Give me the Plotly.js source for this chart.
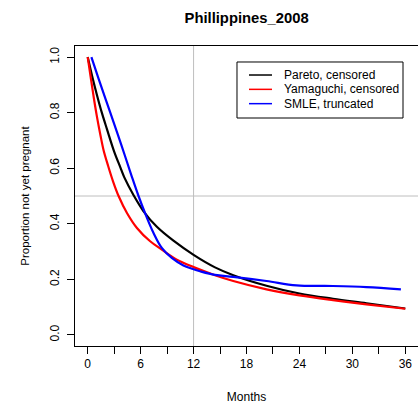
<!DOCTYPE html>
<html>
<head>
<meta charset="utf-8">
<script src="https://cdn.plot.ly/plotly-3.0.1.min.js"></script>
<style>html,body{margin:0;padding:0;background:#fff;}#chart{width:418px;height:408px;}</style>
</head>
<body>
<div id="chart"></div>
<script>
// ---- data ----
const chartTitle = "Phillippines_2008";
const xTitle = "Months";
const yTitle = "Proportion not yet pregnant";
const seriesNames = ["Pareto, censored", "Yamaguchi, censored", "SMLE, truncated"];
const seriesColors = ["#000000", "#ff0000", "#0000ff"];

const monthsPareto = [0, 0.5, 1.06, 1.6, 2.19, 3.0, 3.7, 4.15, 5.2, 6.33, 7.84, 9.72, 12, 14.43, 16.5, 20.27, 24, 27.8, 31.6, 36];
const pareto       = [1.0, 0.932, 0.862, 0.80, 0.74, 0.66, 0.603, 0.567, 0.503, 0.445, 0.389, 0.339, 0.288, 0.243, 0.215, 0.177, 0.149, 0.130, 0.114, 0.095];

const monthsYamaguchi = [0, 0.4, 0.7, 1.05, 1.45, 1.8, 2.3, 2.87, 3.5, 4.45, 5.58, 7.08, 8.4, 10.1, 12, 14.43, 16.5, 20.27, 24, 27.8, 31.6, 36];
const yamaguchi       = [1.0, 0.915, 0.852, 0.785, 0.718, 0.665, 0.61, 0.553, 0.5, 0.439, 0.385, 0.337, 0.307, 0.271, 0.244, 0.215, 0.194, 0.164, 0.142, 0.125, 0.110, 0.094];

const monthsSMLE = [0.42, 1.24, 2.56, 3.8, 5.0, 5.76, 6.52, 7.46, 8.4, 9.53, 10.85, 12, 12.73, 14.43, 16.5, 20.27, 23.66, 27.8, 31.6, 35.5];
const smle       = [1.0, 0.922, 0.80, 0.685, 0.57, 0.5, 0.437, 0.367, 0.313, 0.277, 0.25, 0.236, 0.229, 0.216, 0.209, 0.194, 0.178, 0.176, 0.172, 0.164];

const xTickVals = [0, 3, 6, 9, 12, 15, 18, 21, 24, 27, 30, 33, 36];
const xTickText = ["0", "", "6", "", "12", "", "18", "", "24", "", "30", "", "36"];
const yTickVals = [0, 0.2, 0.4, 0.6, 0.8, 1.0];
const yTickText = ["0.0", "0.2", "0.4", "0.6", "0.8", "1.0"];

const refMonth = 12;   // vertical reference line
const refProp = 0.5;   // horizontal reference line

// ---- build ----
const FONT = "'Liberation Sans', Arial, Helvetica, sans-serif";
const xs = [monthsPareto, monthsYamaguchi, monthsSMLE];
const ys = [pareto, yamaguchi, smle];

const traces = xs.map((x, i) => ({
  type: "scatter", mode: "lines", x: x, y: ys[i], name: seriesNames[i],
  line: {color: seriesColors[i], width: 2.2, shape: "spline", smoothing: 1.0},
  showlegend: false, hoverinfo: "skip"
}));

// hand-built legend box (R-style compact legend)
const lgX0 = 0.4723, lgX1 = 0.9563, lgY0 = 0.76, lgY1 = 0.9467;
const rowY = [0.9033, 0.8555, 0.8078];
const shapes = [
  {type: "line", xref: "x", yref: "paper", x0: refMonth, x1: refMonth, y0: 0, y1: 1,
   line: {color: "#bebebe", width: 1}, layer: "below"},
  {type: "line", xref: "paper", yref: "y", x0: 0, x1: 1, y0: refProp, y1: refProp,
   line: {color: "#bebebe", width: 1}, layer: "below"},
  {type: "rect", xref: "paper", yref: "paper", x0: lgX0, x1: lgX1, y0: lgY0, y1: lgY1,
   line: {color: "#000000", width: 1}, fillcolor: "rgba(255,255,255,1)"}
];
const annotations = [];
seriesNames.forEach((n, i) => {
  shapes.push({type: "line", xref: "paper", yref: "paper", x0: 0.5073, x1: 0.5743, y0: rowY[i], y1: rowY[i],
    line: {color: seriesColors[i], width: 1.5}});
  annotations.push({xref: "paper", yref: "paper", x: 0.6035, y: rowY[i], xanchor: "left", yanchor: "middle",
    text: n, showarrow: false, font: {family: FONT, size: 12, color: "#000"}});
});

const layout = {
  width: 418, height: 408,
  margin: {l: 75, r: 0, t: 46, b: 62, pad: 0},
  paper_bgcolor: "#fff", plot_bgcolor: "#fff",
  font: {family: FONT, size: 12, color: "#000"},
  title: {text: "<b>" + chartTitle + "</b>", font: {family: FONT, size: 14.8, color: "#000"},
          x: 0.59, xanchor: "center", y: 0.957, yanchor: "middle"},
  xaxis: {
    range: [-1.44, 37.44], showgrid: false, zeroline: false,
    showline: true, mirror: true, linecolor: "#000", linewidth: 1,
    ticks: "outside", ticklen: 7, tickwidth: 1, tickcolor: "#000",
    tickmode: "array", tickvals: xTickVals, ticktext: xTickText,
    tickfont: {family: FONT, size: 12, color: "#000"},
    title: {text: xTitle, font: {family: FONT, size: 12, color: "#000"}, standoff: 22},
    automargin: false
  },
  yaxis: {
    range: [-0.04, 1.04], showgrid: false, zeroline: false,
    showline: true, mirror: true, linecolor: "#000", linewidth: 1,
    ticks: "outside", ticklen: 7, tickwidth: 1, tickcolor: "#000",
    tickmode: "array", tickvals: yTickVals, ticktext: yTickText, tickangle: -90,
    ticklabelstandoff: 3,
    tickfont: {family: FONT, size: 12, color: "#000"},
    title: {text: yTitle, font: {family: FONT, size: 11.5, color: "#000"}, standoff: 16},
    automargin: false
  },
  shapes: shapes,
  annotations: annotations
};

Plotly.newPlot("chart", traces, layout, {displayModeBar: false, staticPlot: true});
</script>
</body>
</html>
